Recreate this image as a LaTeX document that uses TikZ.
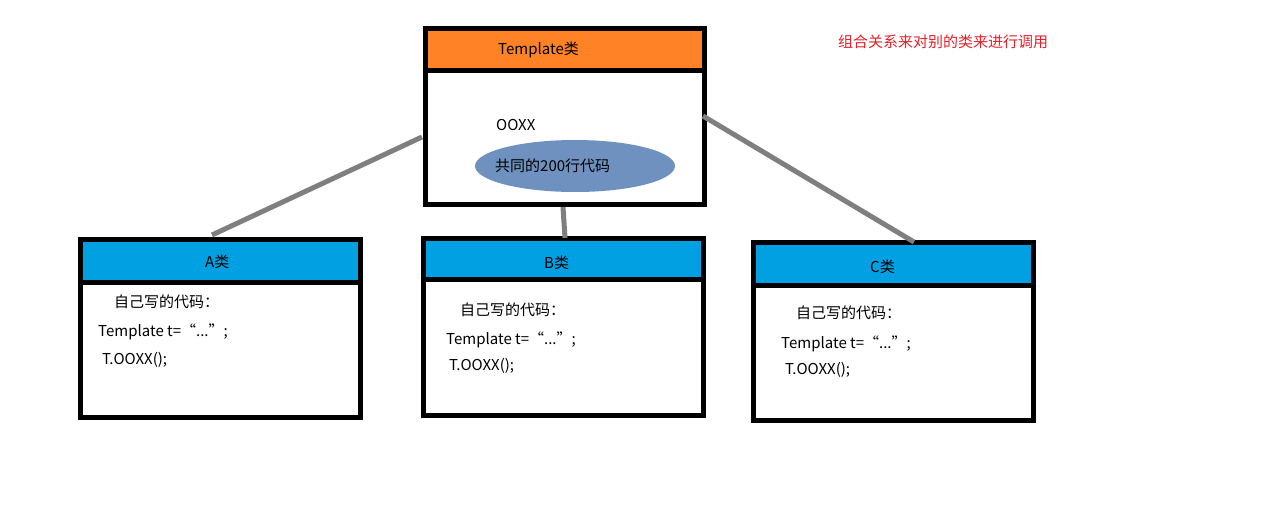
\documentclass[tikz,border=0pt]{standalone}
\usepackage{fontspec}
\usepackage{tikz}
\usetikzlibrary{positioning,calc,shapes.geometric}
\setmainfont{Noto Sans CJK SC}
\definecolor{tplorange}{HTML}{FF8227}
\definecolor{clsblue}{HTML}{00A0E3}
\definecolor{ellblue}{HTML}{6F91BF}
\definecolor{linkgray}{HTML}{7F7F7F}
\definecolor{notered}{HTML}{E8202A}
\tikzset{
  box/.style={draw=black,line width=5pt},
  link/.style={draw=linkgray,line width=5pt},
  txt/.style={anchor=west,inner sep=0pt,font=\fontsize{15}{18}\selectfont}
}

\begin{document}
\begin{tikzpicture}[x=1pt,y=-1pt]
  \useasboundingbox[fill=white] (0,0) rectangle (1273,530);

  % Template class
  \fill[tplorange] (425,28) rectangle (704,70);
  \node[box,minimum width=279pt,minimum height=176pt,inner sep=0pt] (tpl) at (564.5,116) {};
  \draw[box] (425,70) -- (704,70);
  \node[txt] (tplname) at (498,50) {Template类};
  \node[txt] (ooxx) at (496,125) {OOXX};
  \node[draw=none,fill=ellblue,ellipse,minimum width=200pt,minimum height=52pt] (common) at (575,166) {};
  \node[txt] (commontxt) at (495,166) {共同的200行代码};

  % A class
  \fill[clsblue] (80,239) rectangle (360,282);
  \node[box,minimum width=280pt,minimum height=178pt,inner sep=0pt] (clsA) at (220,328) {};
  \draw[box] (80,282) -- (360,282);
  \node[txt] (nameA) at (205,262) {A类};
  \node[txt] (ownA) at (114,302) {自己写的代码：};
  \node[txt] (declA) at (98,332) {Template t=“...”;};
  \node[txt] (callA) at (102,360) {T.OOXX();};

  % B class
  \fill[clsblue] (423,238) rectangle (703,279);
  \node[box,minimum width=280pt,minimum height=177pt,inner sep=0pt] (clsB) at (563,326.5) {};
  \draw[box] (423,279) -- (703,279);
  \node[txt] (nameB) at (544,263) {B类};
  \node[txt] (ownB) at (460,310) {自己写的代码：};
  \node[txt] (declB) at (446,340) {Template t=“...”;};
  \node[txt] (callB) at (449,366) {T.OOXX();};

  % C class
  \fill[clsblue] (753,242) rectangle (1033,285);
  \node[box,minimum width=280pt,minimum height=178pt,inner sep=0pt] (clsC) at (893,331) {};
  \draw[box] (753,285) -- (1033,285);
  \node[txt] (nameC) at (870,267) {C类};
  \node[txt] (ownC) at (796,313) {自己写的代码：};
  \node[txt] (declC) at (781,344) {Template t=“...”;};
  \node[txt] (callC) at (785,370) {T.OOXX();};

  % links
  \coordinate (tplL) at (422,137);
  \coordinate (tplB) at (563,207);
  \coordinate (tplR) at (703,116);
  \coordinate (topA) at (212,235);
  \coordinate (topB) at (565,238);
  \coordinate (topC) at (914,242);
  \draw[link] (tplL) -- (topA);
  \draw[link] (tplB) -- (topB);
  \draw[link] (tplR) -- (topC);

  % note
  \node[txt,text=notered] (note) at (838,42) {组合关系来对别的类来进行调用};
\end{tikzpicture}
\end{document}
